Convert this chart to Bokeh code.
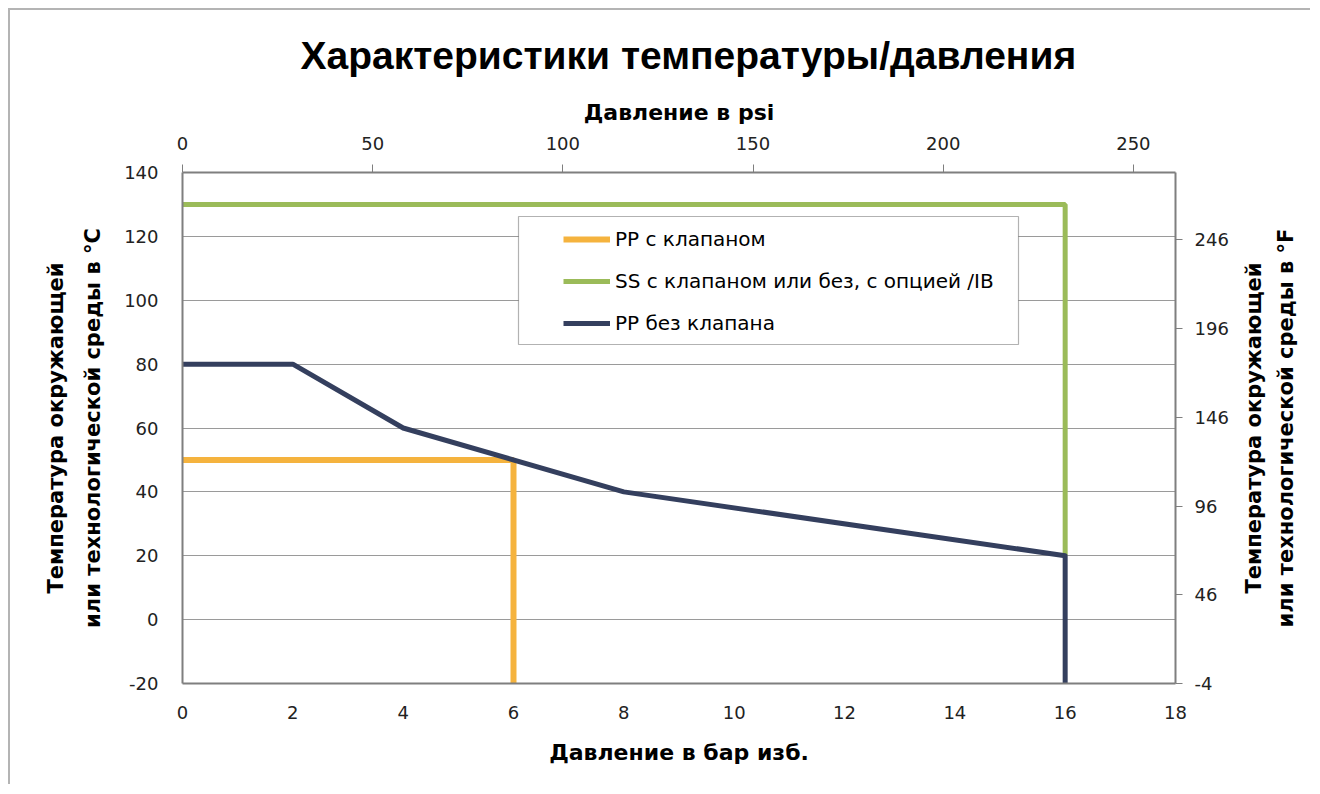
from bokeh.plotting import figure
from bokeh.layouts import row
from bokeh.models import (LinearAxis, Range1d, FixedTicker, Legend, LegendItem,
                          BoxAnnotation, Title, NumeralTickFormatter)
from bokeh.embed import file_html
from bokeh.resources import INLINE

# ---- data ----
BAR_TO_PSI = 14.5038
pp_valve_bar = [0, 6, 6]
pp_valve_c = [50, 50, -20]
ss_bar = [0, 16, 16]
ss_c = [130, 130, 20]
pp_novalve_bar = [0, 2, 4, 8, 16, 16]
pp_novalve_c = [80, 80, 60, 40, 20, -20]

x_ticks = [0, 2, 4, 6, 8, 10, 12, 14, 16, 18]
y_ticks = [-20, 0, 20, 40, 60, 80, 100, 120, 140]
psi_ticks = [0, 50, 100, 150, 200, 250]
f_ticks = [-4, 46, 96, 146, 196, 246]

title_text = "Характеристики температуры/давления"
x_label = "Давление в бар изб."
x2_label = "Давление в psi"
y_label = "Температура окружающей\nили технологической среды в °C"
y2_label = "Температура окружающей\nили технологической среды в °F"
labels = ["PP с клапаном", "SS с клапаном или без, с опцией /IB", "PP без клапана"]
colors = ["#F5B33E", "#9BBB59", "#343F5E"]

TICK_FONT = "DejaVu Sans"
LABEL_FONT = "DejaVu Sans"
TITLE_FONT = "Liberation Sans"
AX_GRAY = "#7f7f7f"
BORDER = "2px solid #b4b4b4"

p = figure(width=1228, height=776, output_backend="svg", toolbar_location=None,
           x_range=Range1d(0, 18), y_range=Range1d(-20, 140),
           min_border_left=172, min_border_right=63, min_border_top=162,
           min_border_bottom=103, background_fill_color="white",
           border_fill_color="white", outline_line_color=None,
           margin=(8, 0, 0, 8))
p.styles = {"border-top": BORDER, "border-left": BORDER}

p.extra_x_ranges = {"psi": Range1d(0, 18 * BAR_TO_PSI)}
p.extra_y_ranges = {"F": Range1d(-20 * 1.8 + 32, 140 * 1.8 + 32)}

p.title = Title(text=title_text, align="left", offset=118, standoff=40,
                text_font=TITLE_FONT, text_font_size="39px",
                text_font_style="bold", text_color="black")

def style_axis(ax, tick_out, label_size="22px"):
    ax.axis_line_color = AX_GRAY
    ax.axis_line_width = 2
    ax.major_tick_line_color = AX_GRAY
    ax.major_tick_out = tick_out
    ax.major_tick_in = 0
    ax.minor_tick_line_color = None
    ax.major_label_text_font = TICK_FONT
    ax.major_label_text_font_size = "18px"
    ax.major_label_text_color = "#222222"
    ax.axis_label_text_font = LABEL_FONT
    ax.axis_label_text_font_size = label_size
    ax.axis_label_text_font_style = "bold"
    ax.axis_label_text_color = "black"

# bottom axis
xb = p.xaxis[0]
xb.ticker = FixedTicker(ticks=x_ticks)
xb.axis_label = x_label
style_axis(xb, 0)
xb.major_label_standoff = 22
xb.axis_label_standoff = 18

# left axis
yl = p.yaxis[0]
yl.ticker = FixedTicker(ticks=y_ticks)
yl.formatter = NumeralTickFormatter(format="0")
yl.axis_label = y_label
style_axis(yl, 0, "21px")
yl.major_label_standoff = 24
yl.axis_label_standoff = 16
yl.axis_label_text_line_height = 1.55

# top axis
xt = LinearAxis(x_range_name="psi", ticker=FixedTicker(ticks=psi_ticks),
                axis_label=x2_label)
style_axis(xt, 8)
xt.major_label_standoff = 15
xt.axis_label_standoff = 9
p.add_layout(xt, "above")

# right axis (°F ticks)
yr = LinearAxis(y_range_name="F", ticker=FixedTicker(ticks=f_ticks))
yr.formatter = NumeralTickFormatter(format="0")
style_axis(yr, 7)
yr.major_label_standoff = 12
p.add_layout(yr, "right")

p.xgrid.visible = False
p.ygrid.ticker = FixedTicker(ticks=y_ticks)
p.ygrid.grid_line_color = "#9a9a9a"
p.ygrid.grid_line_width = 1

# lines
r1 = p.line(pp_valve_bar, pp_valve_c, line_color=colors[0], line_width=6)
r2 = p.line(ss_bar, ss_c, line_color=colors[1], line_width=5)
r3 = p.line(pp_novalve_bar, pp_novalve_c, line_color=colors[2], line_width=5,
            line_join="round")

# legend box
box = BoxAnnotation(left=336, right=836, bottom=339, top=467,
                    left_units="screen", right_units="screen",
                    bottom_units="screen", top_units="screen",
                    fill_color="white", fill_alpha=1.0,
                    line_color="black", line_width=1.2, level="overlay")
p.add_layout(box)

legend = Legend(items=[LegendItem(label=l, renderers=[r]) for l, r in zip(labels, [r1, r2, r3])],
                location=(381, 348), padding=12, spacing=18, glyph_width=47,
                glyph_height=20, label_standoff=5,
                label_text_font=LABEL_FONT, label_text_font_size="20px",
                label_text_color="black", border_line_color=None,
                background_fill_alpha=0.0, margin=0)
p.add_layout(legend, "center")

# narrow companion figure carrying the °F axis title (reads bottom-to-top)
p2 = figure(width=74, height=776, output_backend="svg", toolbar_location=None,
            x_range=Range1d(0, 1), y_range=Range1d(-20 * 1.8 + 32, 140 * 1.8 + 32),
            x_axis_location=None, min_border_left=61, min_border_right=0,
            min_border_top=162, min_border_bottom=103,
            background_fill_color="white", border_fill_color="white",
            outline_line_color=None, margin=(8, 0, 0, 0))
p2.styles = {"border-top": BORDER}
p2.grid.visible = False
ya = p2.yaxis[0]
ya.ticker = FixedTicker(ticks=[])
ya.axis_line_color = None
ya.major_tick_line_color = None
ya.minor_tick_line_color = None
ya.major_tick_out = 0
ya.major_label_standoff = 0
ya.axis_label = y2_label
ya.axis_label_standoff = 0
ya.axis_label_text_font = LABEL_FONT
ya.axis_label_text_font_size = "21px"
ya.axis_label_text_font_style = "bold"
ya.axis_label_text_color = "black"
ya.axis_label_text_line_height = 1.3

layout = row(p, p2, spacing=0)
open("out.html", "w").write(file_html(layout, INLINE))
